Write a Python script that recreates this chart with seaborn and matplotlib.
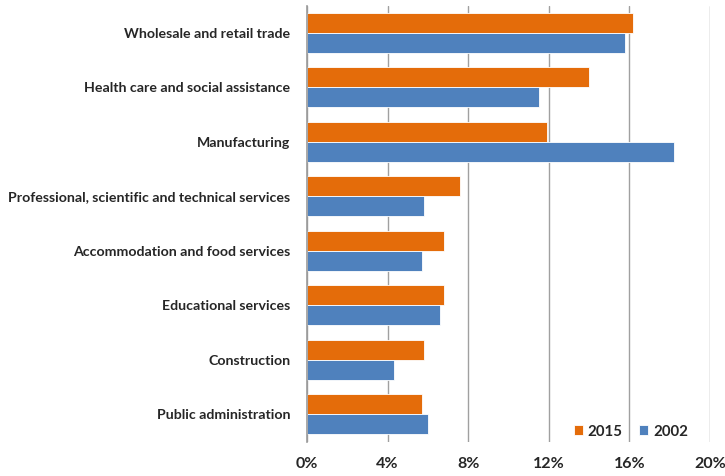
import matplotlib
matplotlib.use("Agg")
import matplotlib.pyplot as plt
import seaborn as sns
import pandas as pd
from matplotlib.ticker import FuncFormatter, MultipleLocator

industries = [
    "Wholesale and retail trade",
    "Health care and social assistance",
    "Manufacturing",
    "Professional, scientific and technical services",
    "Accommodation and food services",
    "Educational services",
    "Construction",
    "Public administration",
]
share_2015 = [16.2, 14.0, 11.9, 7.6, 6.8, 6.8, 5.8, 5.7]
share_2002 = [15.8, 11.5, 18.2, 5.8, 5.7, 6.6, 4.3, 6.0]
years = ["2015", "2002"]
colors = ["#E46C0A", "#4F81BD"]

df = pd.DataFrame({
    "industry": industries * 2,
    "share": share_2015 + share_2002,
    "year": [years[0]] * len(industries) + [years[1]] * len(industries),
})

sns.set_style("white")
plt.rcParams["font.family"] = ["Lato", "DejaVu Sans"]
plt.rcParams["font.weight"] = "bold"

fig = plt.figure(figsize=(7.25, 4.76), dpi=100)
ax = fig.add_axes([307 / 725, 1 - 441.5 / 476, (710 - 307) / 725, (441.5 - 5.5) / 476])

sns.barplot(data=df, y="industry", x="share", hue="year", hue_order=years,
            order=industries, palette=colors, orient="h", width=0.74,
            edgecolor="white", linewidth=0.6, ax=ax, saturation=1)

ax.set_xlim(0, 20)
ax.set_ylim(len(industries) - 0.5, -0.5)
ax.xaxis.set_major_locator(MultipleLocator(4))
ax.xaxis.set_major_formatter(FuncFormatter(lambda v, _: f"{v:.0f}%"))
ax.grid(axis="x", color="#a0a0a0", linewidth=1.0)
ax.set_axisbelow(True)
for s in ["top", "right", "bottom"]:
    ax.spines[s].set_visible(False)
ax.spines["left"].set_color("#9a9a9a")
ax.spines["left"].set_linewidth(1.2)
ax.set_xlabel("")
ax.set_ylabel("")
ax.tick_params(axis="x", length=0, pad=11, labelsize=11.5, labelcolor="#262626")
ax.tick_params(axis="y", length=0, pad=12, labelsize=10.2, labelcolor="#262626")
for t in ax.get_xticklabels() + ax.get_yticklabels():
    t.set_fontweight("bold")

ax.legend(loc="lower right", bbox_to_anchor=(702 / 725, 1 - 452 / 476),
          bbox_transform=fig.transFigure, ncol=2, frameon=False,
          handlelength=0.6, handleheight=0.6, handletextpad=0.35,
          columnspacing=1.1, prop={"weight": "bold", "size": 10.8})

fig.savefig("out.png", dpi=100)
